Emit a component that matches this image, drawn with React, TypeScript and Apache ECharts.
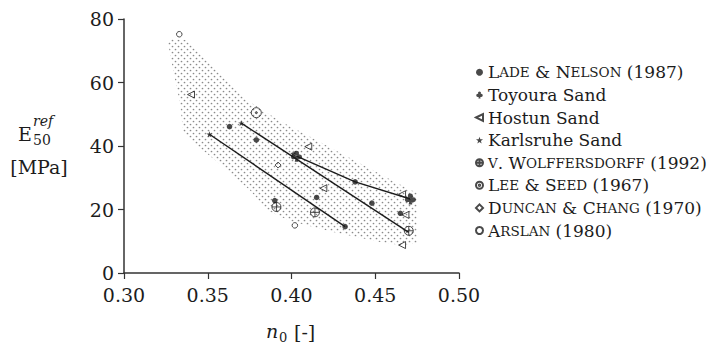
import React, { useEffect, useRef } from 'react';
import * as echarts from 'echarts';

const SERIF = "'DejaVu Serif', 'Liberation Serif', serif";
const INK = '#1c1c1c';

// Axis ranges
const xMin = 0.3;
const xMax = 0.5;
const xStep = 0.05;
const yMin = 0;
const yMax = 80;
const yStep = 20;

// Measurements: porosity n0 [-] and E50ref [MPa]
const ladeN = [0.363, 0.379, 0.39, 0.415, 0.432, 0.438, 0.448, 0.465];
const ladeE = [46.1, 41.9, 22.8, 23.8, 14.6, 28.7, 22.0, 18.8];
const toyouraN = [0.403, 0.471];
const toyouraE = [36.8, 23.3];
const hostunN = [0.34, 0.41, 0.419, 0.466, 0.468, 0.466];
const hostunE = [56.2, 39.8, 26.7, 24.8, 18.3, 8.8];
const karlsruheN = [0.351, 0.37, 0.401];
const karlsruheE = [43.7, 47.2, 37.6];
const wolffN = [0.391, 0.414, 0.47];
const wolffE = [20.8, 19.1, 13.3];
const leeN = [0.379];
const leeE = [50.5];
const duncanN = [0.392];
const duncanE = [34.0];
const arslanN = [0.333, 0.402];
const arslanE = [75.2, 15.0];

// Trend lines
const trendAN = [0.351, 0.432];
const trendAE = [43.7, 14.6];
const trendBN = [0.37, 0.47];
const trendBE = [47.2, 12.8];
const trendCN = [0.403, 0.438, 0.471];
const trendCE = [36.8, 28.7, 23.3];

// Outline of the shaded scatter band
const bandN = [
  0.3275, 0.337, 0.3543, 0.3734, 0.3931, 0.4069, 0.4349, 0.4618, 0.4749,
  0.4749, 0.4648, 0.4528, 0.4248, 0.3991, 0.3854, 0.3752, 0.3543, 0.3394,
  0.3352, 0.3334, 0.3293, 0.3263,
];
const bandE = [
  73.7, 73.4, 64.6, 54.5, 47.9, 44.1, 36.2, 28.7, 25.2,
  9.4, 8.8, 9.8, 12.9, 16.4, 19.8, 26.1, 35.6, 41.9,
  45.0, 53.5, 63.9, 72.4,
];

const seriesNames = [
  'Lade & Nelson (1987)',
  'Toyoura Sand',
  'Hostun Sand',
  'Karlsruhe Sand',
  'v. Wolffersdorff (1992)',
  'Lee & Seed (1967)',
  'Duncan & Chang (1970)',
  'Arslan (1980)',
];
const smallCapNames = new Set([
  'Lade & Nelson (1987)',
  'v. Wolffersdorff (1992)',
  'Lee & Seed (1967)',
  'Duncan & Chang (1970)',
  'Arslan (1980)',
]);

const CLUB =
  'path://M30 28 A20 20 0 1 0 70 28 A20 20 0 1 0 30 28 Z M7 60 A20 20 0 1 0 47 60 A20 20 0 1 0 7 60 Z M53 60 A20 20 0 1 0 93 60 A20 20 0 1 0 53 60 Z M46 50 L36 100 L64 100 L54 50 Z';
const STAR =
  'path://M50 0 L61.76 33.82 L97.55 34.55 L69.02 56.18 L79.39 90.45 L50 70 L20.61 90.45 L30.98 56.18 L2.45 34.55 L38.24 33.82 Z';
const LEFT_TRI = 'path://M0 50 L100 0 L100 100 Z';
const CIRCLE_PLUS =
  'path://M0 50 A50 50 0 1 1 100 50 A50 50 0 1 1 0 50 Z M0 50 L100 50 M50 0 L50 100';
const CIRCLE_DOT =
  'path://M0 50 A50 50 0 1 1 100 50 A50 50 0 1 1 0 50 Z M40 50 A10 10 0 1 1 60 50 A10 10 0 1 1 40 50 Z';

function pairs(xs: number[], ys: number[]) {
  return xs.map((x, i) => [x, ys[i]]);
}

function smallCaps(text: string) {
  return text.replace(/([a-z]+)|([^a-z]+)/g, (_m, lower, other) =>
    lower ? `{s|${lower.toUpperCase()}}` : `{b|${other}}`
  );
}

function makeStipple() {
  const c = document.createElement('canvas');
  c.width = 6;
  c.height = 6;
  const ctx = c.getContext('2d')!;
  ctx.fillStyle = '#8a8a8a';
  ctx.beginPath();
  ctx.arc(1.5, 1.5, 0.85, 0, Math.PI * 2);
  ctx.arc(4.5, 4.5, 0.85, 0, Math.PI * 2);
  ctx.fill();
  return c;
}

function scatter(name: string, xs: number[], ys: number[], symbol: string, size: number, hollow: boolean) {
  return {
    name,
    type: 'scatter',
    data: pairs(xs, ys),
    symbol,
    symbolSize: size,
    z: 4,
    itemStyle: hollow
      ? { color: 'transparent', borderColor: INK, borderWidth: 1 }
      : { color: INK, borderWidth: 0 },
  };
}

function trend(name: string, xs: number[], ys: number[]) {
  return {
    name,
    type: 'line',
    data: pairs(xs, ys),
    symbol: 'none',
    showSymbol: false,
    silent: true,
    z: 3,
    lineStyle: { color: INK, width: 1.4 },
  };
}

function textEl(x: number, y: number, text: string, size: number, opts: any = {}) {
  const align = opts.align || 'left';
  return {
    type: 'text',
    x,
    y,
    silent: true,
    style: {
      text,
      fontSize: size,
      fontFamily: SERIF,
      fontStyle: opts.italic ? 'italic' : 'normal',
      fill: INK,
      align,
      textAlign: align,
      verticalAlign: 'middle',
      textVerticalAlign: 'middle',
    },
  };
}

export default function App() {
  const ref = useRef<HTMLDivElement>(null);

  useEffect(() => {
    if (!ref.current) return;
    const chart = echarts.init(ref.current, null, { renderer: 'svg' });
    const stipple = makeStipple();

    const option: any = {
      animation: false,
      backgroundColor: '#ffffff',
      textStyle: { fontFamily: SERIF },
      grid: { left: 124, right: 254, top: 19, bottom: 71, containLabel: false },
      xAxis: {
        type: 'value',
        min: xMin,
        max: xMax,
        interval: xStep,
        splitLine: { show: false },
        axisLine: { onZero: false, lineStyle: { color: '#333', width: 1.5 } },
        axisTick: { length: 6, lineStyle: { color: '#333', width: 1.2 } },
        axisLabel: {
          margin: 12,
          fontFamily: SERIF,
          fontSize: 19,
          color: INK,
          formatter: (v: number) => v.toFixed(2),
        },
      },
      yAxis: {
        type: 'value',
        min: yMin,
        max: yMax,
        interval: yStep,
        splitLine: { show: false },
        axisLine: { show: true, onZero: false, lineStyle: { color: '#333', width: 1.5 } },
        axisTick: { show: true, length: 6, lineStyle: { color: '#333', width: 1.2 } },
        axisLabel: { margin: 10, fontFamily: SERIF, fontSize: 19, color: INK },
      },
      legend: {
        orient: 'vertical',
        left: 475,
        top: 61,
        padding: 0,
        itemGap: 0,
        itemWidth: 7,
        itemHeight: 7,
        selectedMode: false,
        data: seriesNames,
        formatter: (name: string) => (smallCapNames.has(name) ? smallCaps(name) : name),
        textStyle: {
          fontFamily: SERIF,
          fontSize: 17,
          color: INK,
          lineHeight: 22.6,
          rich: {
            b: { fontFamily: SERIF, fontSize: 17, color: INK, lineHeight: 22.6 },
            s: { fontFamily: SERIF, fontSize: 13.5, color: INK, lineHeight: 22.6 },
          },
        },
      },
      series: [
        {
          name: 'band',
          type: 'custom',
          silent: true,
          z: 1,
          data: [[bandN[0], bandE[0]]],
          renderItem: (_params: any, api: any) => ({
            type: 'polygon',
            shape: { points: bandN.map((n, i) => api.coord([n, bandE[i]])) },
            style: { fill: { image: stipple, repeat: 'repeat' }, stroke: 'none' },
          }),
        },
        trend('trend A', trendAN, trendAE),
        trend('trend B', trendBN, trendBE),
        trend('trend C', trendCN, trendCE),
        scatter(seriesNames[0], ladeN, ladeE, 'circle', 5.5, false),
        scatter(seriesNames[1], toyouraN, toyouraE, CLUB, 11, false),
        scatter(seriesNames[2], hostunN, hostunE, LEFT_TRI, 7, true),
        scatter(seriesNames[3], karlsruheN, karlsruheE, STAR, 6, false),
        scatter(seriesNames[4], wolffN, wolffE, CIRCLE_PLUS, 9, true),
        scatter(seriesNames[5], leeN, leeE, CIRCLE_DOT, 10, true),
        scatter(seriesNames[6], duncanN, duncanE, 'diamond', 6, true),
        scatter(seriesNames[7], arslanN, arslanE, 'circle', 5.5, true),
      ],
      graphic: [
        textEl(18, 134, 'E', 19),
        textEl(33, 121, 'ref', 14, { italic: true }),
        textEl(33, 140, '50', 14),
        textEl(39, 167, '[MPa]', 19, { align: 'center' }),
        textEl(266, 330.5, 'n', 19, { italic: true }),
        textEl(279, 337, '0', 13),
        textEl(294, 332, '[-]', 19),
      ],
    };

    chart.setOption(option);
    return () => chart.dispose();
  }, []);

  return (
    <div
      ref={ref}
      style={{ position: 'absolute', left: 0, top: 0, width: 713, height: 344 }}
    />
  );
}
